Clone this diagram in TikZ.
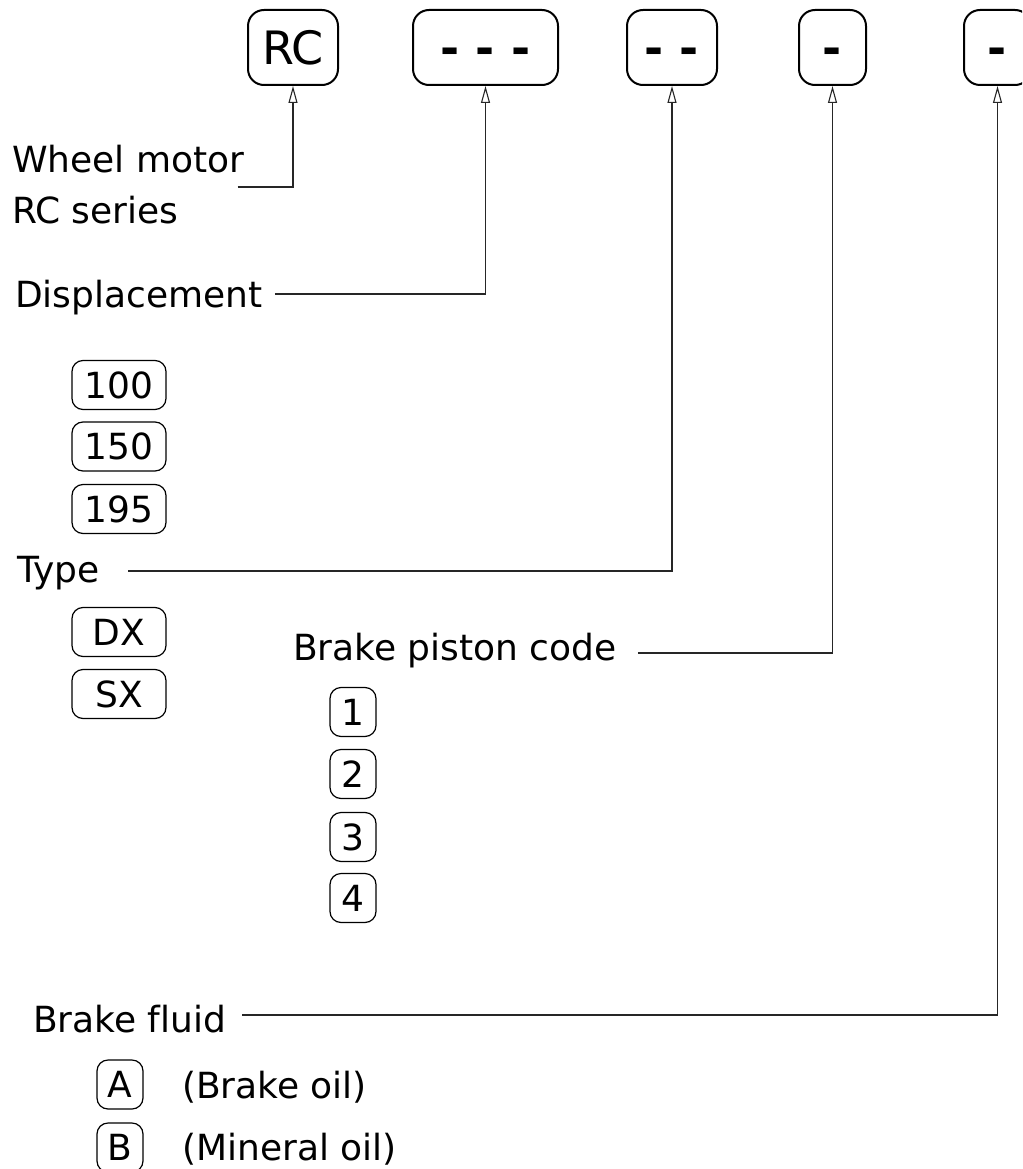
\documentclass[tikz,border=0pt]{standalone}
\usepackage{fontspec}
\setmainfont[Ligatures=NoCommon]{DejaVu Sans}
\usetikzlibrary{arrows.meta}
\newcommand{\dsh}{{\bfseries -}}
\newcommand{\dgap}{\hspace{16pt}}
\begin{document}
\begin{tikzpicture}[x=1pt,y=-1pt,
  topbox/.style={draw, line width=2pt, rounded corners=16pt, minimum height=75pt, inner sep=0pt,
    font=\fontsize{46}{50}\selectfont, text height=33.6pt, text depth=0pt},
  optbox/.style={draw, line width=1.2pt, rounded corners=11pt, minimum height=49pt, inner sep=0pt,
    font=\fontsize{36}{43}\selectfont, text height=26.3pt, text depth=0pt},
  lbl/.style={anchor=base west, inner sep=0pt, font=\fontsize{36}{43}\selectfont},
  conn/.style={line width=1.2pt, draw=black!85},
  arr/.style={conn, -{Triangle[open, length=17pt, width=9pt, line width=1.1pt]}}]
\clip (0,0) rectangle (1022,1169);
% code boxes
\node[topbox, minimum width=90pt]  (rc) at (293,47.5) {RC};
\node[topbox, minimum width=145pt] (d3) at (485.5,47.5) {\dsh\dgap\dsh\dgap\dsh};
\node[topbox, minimum width=90pt]  (d2) at (672,47.5) {\dsh\dgap\dsh};
\node[topbox, minimum width=67pt]  (d1) at (832.5,47.5) {\dsh};
\node[topbox, minimum width=67pt]  (d0) at (997.5,47.5) {\dsh};
% labels
\node[lbl] (wm1) at (12,173) {Wheel motor};
\node[lbl] (wm2) at (12,223) {RC series};
\node[lbl] (disp) at (15,307) {Displacement};
\node[lbl] (type) at (17,582) {Type};
\node[lbl] (bpc) at (293,660) {Brake piston code};
\node[lbl] (bf) at (33,1032) {Brake fluid};
\node[lbl] (oilA) at (182,1098) {(Brake oil)};
\node[lbl] (oilB) at (182,1160) {(Mineral oil)};
% option boxes
\node[optbox, minimum width=94pt] (o100) at (119,385) {100};
\node[optbox, minimum width=94pt] (o150) at (119,446.5) {150};
\node[optbox, minimum width=94pt] (o195) at (119,509) {195};
\node[optbox, minimum width=94pt] (odx) at (119,632) {DX};
\node[optbox, minimum width=94pt] (osx) at (119,694) {SX};
\node[optbox, minimum width=46pt] (p1) at (353,712) {1};
\node[optbox, minimum width=46pt] (p2) at (353,774) {2};
\node[optbox, minimum width=46pt] (p3) at (353,837) {3};
\node[optbox, minimum width=46pt] (p4) at (353,898) {4};
\node[optbox, minimum width=46pt] (fa) at (120,1084.5) {A};
\node[optbox, minimum width=46pt] (fb) at (120,1147.5) {B};
% connectors
\draw[arr] (wm1.base east) ++(-7,14) -| (rc.south);
\draw[arr] (disp.base east) ++(12,-13) -| (d3.south);
\draw[arr] (type.base east) ++(28,-11) -| (d2.south);
\draw[arr] (bpc.base east) ++(21,-7) -| (d1.south);
\draw[arr] (bf.base east) ++(16,-17) -| (d0.south);
\end{tikzpicture}
\end{document}
